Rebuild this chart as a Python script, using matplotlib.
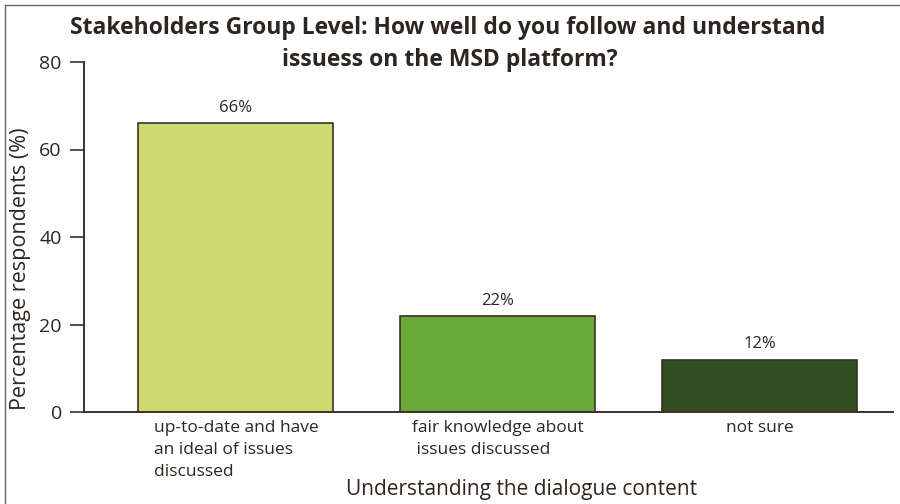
import matplotlib
matplotlib.use("Agg")
import matplotlib.pyplot as plt

FONT = "Open Sans"
INK = "#2E2520"
AXIS = "#3D3029"

categories = [
    "up-to-date and have\nan ideal of issues\ndiscussed",
    "fair knowledge about\n issues discussed",
    "not sure",
]
values = [66, 22, 12]
bar_colors = ["#CBD96E", "#6AA837", "#324F21"]
y_ticks = [0, 20, 40, 60, 80]

plt.rcParams["font.family"] = [FONT, "DejaVu Sans"]

fig = plt.figure(figsize=(9, 5.04), dpi=100)
ax = fig.add_axes([84 / 900, 1 - 412 / 504, 809 / 900, 350 / 504])

x = list(range(len(values)))
bars = ax.bar(x, values, width=0.745, color=bar_colors, edgecolor=AXIS, linewidth=1.2, zorder=2)
for rect, v in zip(bars, values):
    ax.text(rect.get_x() + rect.get_width() / 2, v + 1.6, f"{v}%",
            ha="center", va="bottom", fontsize=12, color=INK)

ax.set_xlim(-0.58, 2.51)
ax.set_ylim(0, 80)
ax.set_yticks(y_ticks)
ax.set_yticklabels([str(t) for t in y_ticks], fontsize=14, color=INK)
ax.tick_params(axis="y", direction="out", length=10, width=1.2, color=AXIS, pad=6)
ax.set_xticks(x)
ax.set_xticklabels(categories, fontsize=12.5, color=INK, linespacing=1.5,
                   multialignment="left")
ax.tick_params(axis="x", length=0, pad=6)

for side in ("top", "right"):
    ax.spines[side].set_visible(False)
for side in ("left", "bottom"):
    ax.spines[side].set_color(AXIS)
    ax.spines[side].set_linewidth(1.4)

ax.set_ylabel("Percentage respondents (%)", fontsize=15.5, color=INK)
ax.yaxis.set_label_coords(-53 / 809, 0.41)
fig.text(522 / 900, 1 - 489 / 504, "Understanding the dialogue content",
         ha="center", va="center", fontsize=15, color=INK)

fig.text(448 / 900, 1 - 28 / 504, "Stakeholders Group Level: How well do you follow and understand",
         ha="center", va="center", fontsize=16.5, fontweight="bold", color=INK)
fig.text(450 / 900, 1 - 60 / 504, "issuess on the MSD platform?",
         ha="center", va="center", fontsize=16.5, fontweight="bold", color=INK)

# thin frame along the top and left edge
fig.add_artist(plt.Line2D([5 / 900, 1], [1 - 5 / 504, 1 - 5 / 504], color="#6E6660",
                          linewidth=1, transform=fig.transFigure))
fig.add_artist(plt.Line2D([5 / 900, 5 / 900], [0, 1 - 5 / 504], color="#6E6660",
                          linewidth=1, transform=fig.transFigure))

fig.savefig("out.png", dpi=100)
